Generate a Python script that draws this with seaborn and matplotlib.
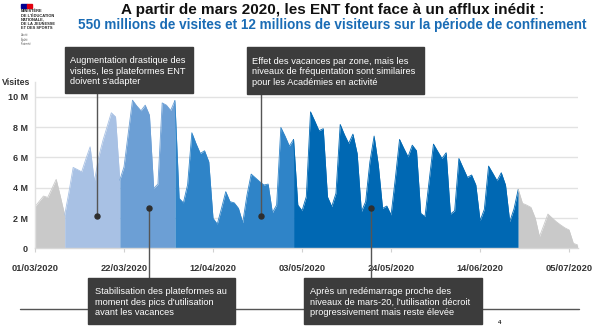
import numpy as np
import pandas as pd
import matplotlib
matplotlib.use("Agg")
import matplotlib.pyplot as plt
import matplotlib.dates as mdates
from matplotlib.patches import Rectangle
from matplotlib.lines import Line2D
import seaborn as sns

# ---------------- data ----------------
start_date = "2020-03-01"
visits_m = [
    2.75, 3.1, 3.45, 3.36, 3.95, 4.55, 3.4, 2.2, 3.7, 5.34,
    5.2, 5.05, 5.9, 6.7, 4.4, 6.0, 7.1, 8.02, 8.95, 8.68,
    4.5, 5.38, 7.6, 9.78, 9.4, 9.08, 9.45, 8.79, 3.96, 4.24,
    9.6, 9.45, 9.1, 9.75, 3.3, 3.0, 4.2, 7.63, 6.9, 6.26,
    6.44, 5.71, 1.98, 1.6, 2.64, 3.74, 3.08, 3.0, 2.64, 1.69,
    3.5, 4.9, 4.65, 4.4, 4.18, 4.24, 2.35, 2.86, 7.98, 7.4,
    6.75, 7.19, 2.86, 2.48, 3.41, 9.01, 8.4, 7.76, 7.9, 3.4,
    2.75, 3.63, 8.18, 7.5, 6.92, 7.54, 6.26, 2.42, 3.08, 5.7,
    7.41, 5.49, 2.64, 2.79, 2.2, 4.6, 7.19, 6.6, 6.04, 6.81,
    6.44, 2.31, 2.09, 4.5, 6.88, 6.4, 5.93, 6.31, 2.26, 2.48,
    5.93, 5.3, 4.68, 4.84, 4.18, 1.82, 2.57, 5.43, 4.95, 4.46,
    4.99, 4.18, 1.76, 2.6, 3.89, 2.97, 2.85, 2.70, 2.0, 0.77,
    1.5, 2.26, 2.0, 1.75, 1.54, 1.35, 1.21, 0.33, 0.22,
]
period_starts = ["2020-03-01", "2020-03-08", "2020-03-21", "2020-04-03",
                 "2020-05-01", "2020-06-23", "2020-07-07"]
period_colors = ["#c9c9c9", "#a8c1e4", "#6c9fd5", "#2f84c8", "#0068b3", "#c9c9c9"]
y_ticks = [0, 2, 4, 6, 8, 10]
y_tick_labels = ["0", "2 M", "4 M", "6 M", "8 M", "10 M"]
x_tick_dates = ["2020-03-01", "2020-03-22", "2020-04-12", "2020-05-03",
                "2020-05-24", "2020-06-14", "2020-07-05"]

title = "A partir de mars 2020, les ENT font face à un afflux inédit :"
subtitle = "550 millions de visites et 12 millions de visiteurs sur la période de confinement"
notes_top = ["Augmentation drastique des\nvisites, les plateformes ENT\ndoivent s'adapter",
             "Effet des vacances par zone, mais les\nniveaux de fréquentation sont similaires\npour les Académies en activité"]
notes_bottom = ["Stabilisation des plateformes au\nmoment des pics d'utilisation\navant les vacances",
                "Après un redémarrage proche des\nniveaux de mars-20, l'utilisation décroit\nprogressivement mais reste élevée"]

df = pd.DataFrame({
    "date": pd.date_range(start_date, periods=len(visits_m), freq="D"),
    "visits": visits_m,
})

# ---------------- style ----------------
sns.set_theme(style="white")
plt.rcParams["font.family"] = ["Liberation Sans", "DejaVu Sans"]

W, H = 601, 327
fig = plt.figure(figsize=(W / 100, H / 100), dpi=100)

def fx(x):
    return x / W

def fy(y):
    return 1 - y / H

ax = fig.add_axes([fx(35), fy(248.3), (578 - 35) / W, (248.3 - 81.7) / H])

# areas
pstarts = pd.to_datetime(period_starts)
for i, col in enumerate(period_colors):
    seg = df[(df["date"] >= pstarts[i]) & (df["date"] <= pstarts[i + 1])]
    ax.fill_between(seg["date"], 0, seg["visits"], color=col, lw=0, zorder=2)
    sns.lineplot(data=seg, x="date", y="visits", color=col, lw=0.6, ax=ax, zorder=2)

ax.set_xlim(pd.Timestamp(start_date), pd.Timestamp(start_date) + pd.Timedelta(days=128.1))
ax.set_ylim(0, 11)
ax.set_yticks(y_ticks)
ax.set_yticklabels(y_tick_labels)
ax.set_xticks(pd.to_datetime(x_tick_dates))
ax.xaxis.set_major_formatter(mdates.DateFormatter("%d/%m/%Y"))
ax.set_xlabel("")
ax.set_ylabel("")
ax.yaxis.grid(True, color="#e2e2e2", lw=1, zorder=0)
ax.xaxis.grid(False)
ax.set_axisbelow(True)
for s in ["top", "right"]:
    ax.spines[s].set_visible(False)
ax.spines["left"].set_color("#e0e0e0")
ax.spines["bottom"].set_color("#d8d8d8")
ax.spines["left"].set_linewidth(1)
ax.spines["bottom"].set_linewidth(1)
ax.tick_params(axis="y", length=0, pad=5, labelsize=6.5, labelcolor="#333333")
ax.tick_params(axis="x", length=3, width=0.8, color="#d0d0d0", pad=8,
               labelsize=6.7, labelcolor="#333333", bottom=True)
for lab in ax.get_xticklabels() + ax.get_yticklabels():
    lab.set_fontweight("bold")

fig.text(fx(2), fy(82.7), "Visites", fontsize=6.3, fontweight="bold",
         color="#333333", ha="left", va="center")

# ---------------- titles ----------------
fig.text(fx(333), fy(13.8), title, fontsize=11, fontweight="bold",
         color="#111111", ha="center", va="baseline")
fig.text(fx(332), fy(28.8), subtitle, fontsize=9.75, fontweight="bold",
         color="#1a6cb5", ha="center", va="baseline")

# ---------------- logo ----------------
fig.patches.append(Rectangle((fx(20.7), fy(7.6)), 5.8 / W, 3.6 / H,
                             transform=fig.transFigure, color="#000091"))
fig.patches.append(Rectangle((fx(26.5), fy(7.6)), 5.8 / W, 3.6 / H,
                             transform=fig.transFigure, color="#e1000f"))
fig.text(fx(20.7), fy(9.5), "MINISTÈRE\nDE L'ÉDUCATION\nNATIONALE,\nDE LA JEUNESSE\nET DES SPORTS",
         fontsize=2.9, fontweight="bold", color="#222222", ha="left", va="top",
         linespacing=1.05)
fig.text(fx(20.7), fy(32.5), "Liberté\nÉgalité\nFraternité", fontsize=1.8,
         color="#555555", ha="left", va="top", linespacing=1.1)

# ---------------- annotations ----------------
box_col = "#3c3c3c"
line_col = "#555555"

# horizontal rule
fig.lines.append(Line2D([fx(20), fx(579)], [fy(309.3), fy(309.3)],
                        transform=fig.transFigure, color=line_col, lw=1, zorder=1))

def box(x0, y0, x1, y1, text, tx):
    fig.patches.append(Rectangle((fx(x0), fy(y1)), (x1 - x0) / W, (y1 - y0) / H,
                                 transform=fig.transFigure, color=box_col, zorder=3))
    fig.text(fx(tx), fy((y0 + y1) / 2 + 1.2), text, fontsize=6.7, color="white",
             ha="left", va="center", linespacing=1.2, zorder=4)

def pointer(x, y_top, y_bot, dot_y):
    fig.lines.append(Line2D([fx(x), fx(x)], [fy(y_top), fy(y_bot)],
                            transform=fig.transFigure, color=line_col, lw=1, zorder=3))
    fig.lines.append(Line2D([fx(x)], [fy(dot_y)], transform=fig.transFigure,
                            marker="o", ms=3.6, color="#2e2e2e", lw=0, zorder=5))

pointer(96.7, 93, 215.7, 215.7)
pointer(260.7, 94, 215.7, 215.7)
pointer(149.3, 207.7, 278, 207.7)
pointer(371, 208.3, 278, 208.3)

box(65, 47, 193, 93, notes_top[0], 70)
box(247, 47, 424, 94, notes_top[1], 252)
box(88, 278, 235, 324, notes_bottom[0], 95)
box(304, 278, 482, 324, notes_bottom[1], 310)

fig.text(fx(499.3), fy(322.3), "4", fontsize=4.5, fontweight="bold",
         color="#222222", ha="center", va="center")

fig.savefig("out.png", dpi=100)
